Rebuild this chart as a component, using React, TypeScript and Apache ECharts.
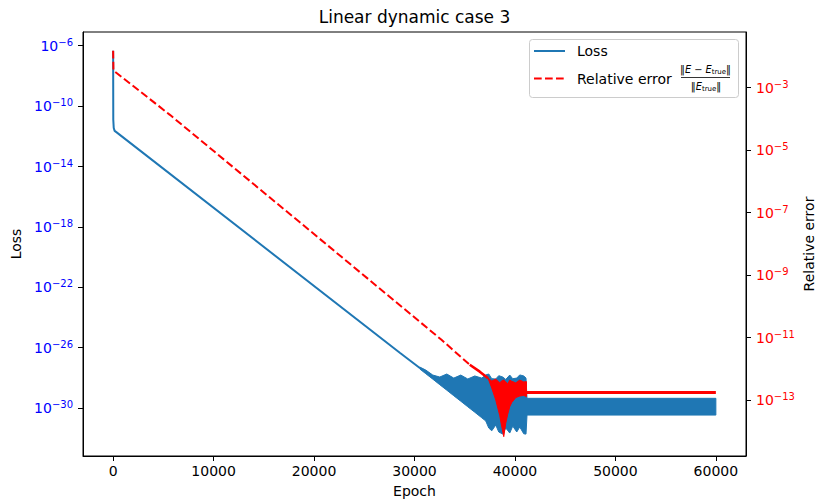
import React, { useEffect, useRef } from "react";
import * as echarts from "echarts";

// ---- Axis ticks ----
const epochTicks = [0, 10000, 20000, 30000, 40000, 50000, 60000];
const lossTickExponents = [-30, -26, -22, -18, -14, -10, -6];
const errorTickExponents = [-13, -11, -9, -7, -5, -3];

// ---- Loss (smooth part) ----
const lossEpochs = [0, 15, 60, 150, 350, 28537, 30527];
const lossValues = [4.68e-7, 1.26e-11, 3.55e-12, 2.29e-12, 1.82e-12, 4.68e-27, 4.57e-28];

// ---- Loss (oscillating band: upper / lower envelopes) ----
const lossBandEpochs = [
  30527, 31124, 31821, 32517, 33214, 33910, 34607, 35303, 36000, 36697, 37095, 37393, 37692,
  38090, 38388, 38786, 39085, 39483, 39781, 40179, 40478, 40876, 41100, 41200, 60000,
];
const lossBandUpper = [
  5.25e-28, 3.31e-28, 1.55e-28, 1.15e-28, 1.82e-28, 9.77e-29, 1.55e-28, 8.51e-29, 1.35e-28,
  9.77e-29, 1.58e-28, 1.82e-28, 8.91e-29, 8.51e-29, 1.41e-28, 1.15e-28, 7.94e-29, 1.55e-28,
  8.91e-29, 9.77e-29, 1.58e-28, 1.35e-28, 9.77e-29, 4.47e-30, 4.47e-30,
];
const lossBandLower = [
  3.89e-28, 1.91e-28, 8.32e-29, 3.55e-29, 1.55e-29, 6.61e-30, 2.88e-30, 1.23e-30, 5.37e-31,
  2.29e-31, 1.41e-31, 4.79e-32, 3.16e-32, 7.59e-32, 2.63e-32, 1.91e-32, 4.79e-32, 2.24e-32,
  6.46e-32, 2.63e-32, 5.62e-32, 2.0e-32, 1.91e-32, 3.47e-31, 3.47e-31,
];

// ---- Relative error ----
const errEpochs = [0, 30, 5652, 18587, 32687, 35502];
const errValues = [1.51e-2, 3.55e-3, 1.35e-4, 4.9e-8, 8.51e-12, 1.35e-12];
const errDenseEpochs = [35502, 36498, 37323];
const errDenseValues = [1.35e-12, 8.13e-13, 5.01e-13];
const errBandEpochs = [
  37323, 37692, 38090, 38488, 38620, 38886, 39085, 39284, 39483, 39682, 40080, 40478, 40876, 41144,
];
const errBandUpper = [
  5.01e-13, 4.07e-13, 4.68e-13, 3.55e-13, 3.98e-13, 4.37e-13, 3.8e-13, 3.31e-13, 4.37e-13,
  3.98e-13, 3.55e-13, 4.37e-13, 3.8e-13, 3.89e-13,
];
const errBandLower = [
  5.01e-13, 2.4e-13, 1.0e-13, 3.16e-14, 1.82e-14, 6.76e-15, 1.82e-14, 3.55e-14, 6.17e-14,
  8.32e-14, 1.2e-13, 1.35e-13, 1.41e-13, 1.29e-13,
];
const errFlatEpochs = [41144, 60000];
const errFlatValues = [1.74e-13, 1.74e-13];

const FONT = "DejaVu Sans";
const BLUE = "#1f77b4";
const RED = "#ff0000";
const lg = Math.log10;

const pairs = (xs: number[], ys: number[]) => xs.map((x, i) => [x, lg(ys[i])]);

const supFmt = (v: number) => `{b|10}{e|${String(Math.round(v)).replace("-", "\u2212")}}`;
const supRich = (color: string) => ({
  b: { fontFamily: FONT, fontSize: 14, color, lineHeight: 17 },
  e: { fontFamily: FONT, fontSize: 10, color, lineHeight: 10, verticalAlign: "top" },
});

// Filled band between an upper and a lower envelope, drawn through the axes' coord().
function bandSeries(
  name: string,
  xs: number[],
  hi: number[],
  lo: number[],
  color: string,
  yAxisIndex: number,
  z: number
) {
  return {
    name,
    type: "custom",
    yAxisIndex,
    z,
    data: xs.map((x, i) => [x, lg(hi[i]), lg(lo[i])]),
    encode: { x: 0, y: [1, 2] },
    renderItem: (params: any, api: any) => {
      if (params.dataIndex !== 0) return null;
      const top = xs.map((x, i) => api.coord([x, lg(hi[i])]));
      const bot = xs.map((x, i) => api.coord([x, lg(lo[i])])).reverse();
      return {
        type: "polygon",
        shape: { points: top.concat(bot) },
        style: { fill: color, stroke: color, lineWidth: 1, lineJoin: "round" },
      };
    },
  };
}

function buildOption(): any {
  return {
    animation: false,
    backgroundColor: "#ffffff",
    textStyle: { fontFamily: FONT },
    grid: {
      left: 83,
      right: 72,
      top: 32,
      bottom: 48,
      containLabel: false,
      outerBoundsMode: "none",
      show: true,
      borderColor: "#000",
      borderWidth: 1,
      backgroundColor: "transparent",
    },
    xAxis: {
      type: "value",
      min: -3000,
      max: 63000,
      name: "Epoch",
      nameLocation: "middle",
      nameGap: 28,
      nameTextStyle: { fontFamily: FONT, fontSize: 14, color: "#000" },
      axisLine: { show: true, onZero: false, lineStyle: { color: "#000", width: 1 } },
      axisTick: { show: true, length: 5, customValues: epochTicks, lineStyle: { color: "#000" } },
      axisLabel: {
        customValues: epochTicks,
        formatter: (v: number) => String(v),
        fontFamily: FONT,
        fontSize: 14,
        color: "#000",
        margin: 8,
      },
      splitLine: { show: false },
    },
    yAxis: [
      {
        type: "value",
        position: "left",
        min: -33.17,
        max: -5.09,
        name: "Loss",
        nameLocation: "middle",
        nameRotate: 90,
        nameGap: 58,
        nameTextStyle: { fontFamily: FONT, fontSize: 14, color: "#000" },
        axisLine: { show: true, onZero: false, lineStyle: { color: "#000", width: 1 } },
        axisTick: { show: true, length: 5, customValues: lossTickExponents, lineStyle: { color: "#000" } },
        axisLabel: {
          customValues: lossTickExponents,
          formatter: supFmt,
          rich: supRich("#0000ff"),
          color: "#0000ff",
          margin: 10,
        },
        splitLine: { show: false },
      },
      {
        type: "value",
        position: "right",
        min: -14.79,
        max: -1.218,
        axisLine: { show: true, onZero: false, lineStyle: { color: "#000", width: 1 } },
        axisTick: { show: true, length: 5, customValues: errorTickExponents, lineStyle: { color: "#000" } },
        axisLabel: {
          customValues: errorTickExponents,
          formatter: supFmt,
          rich: supRich(RED),
          color: RED,
          margin: 10,
        },
        splitLine: { show: false },
      },
    ],
    series: [
      {
        name: "Loss",
        type: "line",
        yAxisIndex: 0,
        data: pairs(lossEpochs, lossValues),
        showSymbol: false,
        lineStyle: { color: BLUE, width: 2 },
        itemStyle: { color: BLUE },
        z: 2,
      },
      bandSeries("Loss band", lossBandEpochs, lossBandUpper, lossBandLower, BLUE, 0, 2),
      {
        name: "Relative error",
        type: "line",
        yAxisIndex: 1,
        data: pairs(errEpochs, errValues),
        showSymbol: false,
        lineStyle: { color: RED, width: 2, type: [7.7, 3.3] },
        itemStyle: { color: RED },
        z: 3,
      },
      {
        name: "Relative error dense",
        type: "line",
        yAxisIndex: 1,
        data: pairs(errDenseEpochs, errDenseValues),
        showSymbol: false,
        lineStyle: { color: RED, width: 2.6 },
        itemStyle: { color: RED },
        z: 3,
      },
      bandSeries("Relative error band", errBandEpochs, errBandUpper, errBandLower, RED, 1, 3),
      {
        name: "Relative error flat",
        type: "line",
        yAxisIndex: 1,
        data: pairs(errFlatEpochs, errFlatValues),
        showSymbol: false,
        lineStyle: { color: RED, width: 3 },
        itemStyle: { color: RED },
        z: 3,
      },
    ],
    graphic: [
      {
        type: "text",
        x: 414.5,
        y: 16.5,
        style: {
          text: "Linear dynamic case 3",
          fontFamily: FONT,
          fontSize: 17,
          fill: "#000",
          align: "center",
          verticalAlign: "middle",
        },
      },
      {
        type: "text",
        x: 808.5,
        y: 244,
        rotation: Math.PI / 2,
        style: {
          text: "Relative error",
          fontFamily: FONT,
          fontSize: 14,
          fill: "#000",
          align: "center",
          verticalAlign: "middle",
        },
      },
      {
        type: "group",
        z: 100,
        children: [
          {
            type: "rect",
            shape: { x: 529.5, y: 39.5, width: 209, height: 58, r: 3 },
            style: { fill: "rgba(255,255,255,0.8)", stroke: "#cccccc", lineWidth: 1 },
          },
          {
            type: "line",
            shape: { x1: 534, y1: 51, x2: 565, y2: 51 },
            style: { stroke: BLUE, lineWidth: 2 },
          },
          {
            type: "text",
            x: 577,
            y: 51,
            style: { text: "Loss", fontFamily: FONT, fontSize: 14, fill: "#000", verticalAlign: "middle" },
          },
          {
            type: "line",
            shape: { x1: 534, y1: 78.5, x2: 565, y2: 78.5 },
            style: { stroke: RED, lineWidth: 2, lineDash: [7.7, 3.3] },
          },
          {
            type: "text",
            x: 577,
            y: 78.5,
            style: {
              text: "Relative error",
              fontFamily: FONT,
              fontSize: 14,
              fill: "#000",
              verticalAlign: "middle",
            },
          },
          {
            type: "text",
            x: 705.5,
            y: 69,
            style: {
              text: "{n|\u2016}{i|E}{n| \u2212 }{i|E}{s|true}{n|\u2016}",
              align: "center",
              verticalAlign: "middle",
              rich: {
                n: { fontFamily: FONT, fontSize: 9.8, fill: "#000", lineHeight: 12 },
                i: { fontFamily: FONT, fontSize: 9.8, fontStyle: "italic", fill: "#000", lineHeight: 12 },
                s: { fontFamily: FONT, fontSize: 7, fill: "#000", lineHeight: 7, verticalAlign: "bottom" },
              },
            },
          },
          {
            type: "line",
            shape: { x1: 681, y1: 77.5, x2: 730, y2: 77.5 },
            style: { stroke: "#000", lineWidth: 0.8 },
          },
          {
            type: "text",
            x: 706,
            y: 86,
            style: {
              text: "{n|\u2016}{i|E}{s|true}{n|\u2016}",
              align: "center",
              verticalAlign: "middle",
              rich: {
                n: { fontFamily: FONT, fontSize: 9.8, fill: "#000", lineHeight: 12 },
                i: { fontFamily: FONT, fontSize: 9.8, fontStyle: "italic", fill: "#000", lineHeight: 12 },
                s: { fontFamily: FONT, fontSize: 7, fill: "#000", lineHeight: 7, verticalAlign: "bottom" },
              },
            },
          },
        ],
      },
    ],
  };
}

export default function App() {
  const ref = useRef<HTMLDivElement>(null);
  useEffect(() => {
    if (!ref.current) return;
    const chart = echarts.init(ref.current, undefined, { renderer: "svg" });
    chart.setOption(buildOption());
    return () => {
      chart.dispose();
    };
  }, []);
  return (
    <div
      ref={ref}
      style={{ position: "absolute", left: 0, top: 0, width: 818, height: 504, background: "#fff" }}
    />
  );
}
